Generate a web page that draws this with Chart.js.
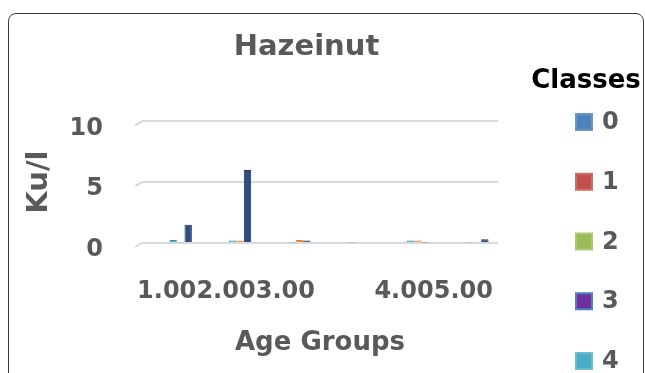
<!DOCTYPE html>
<html>
<head>
<meta charset="utf-8">
<title>Hazeinut</title>
<style>
  html, body { margin: 0; padding: 0; background: #ffffff; overflow: hidden; }
  #wrap { position: relative; width: 645px; height: 373px; }
  #frame {
    position: absolute; left: 8px; top: 13px; width: 636px; height: 420px;
    border: 1px solid #3c3c3c; border-radius: 8px; box-sizing: border-box;
    pointer-events: none;
  }
  canvas { position: absolute; left: 0; top: 0; }
</style>
<script src="https://cdn.jsdelivr.net/npm/chart.js@4/dist/chart.umd.min.js"></script>
</head>
<body>
<div id="wrap">
  <canvas id="chart" width="645" height="373"></canvas>
  <div id="frame"></div>
</div>
<script>
// Age-group categories along the x axis
const ageGroups = ['1.00', '2.00', '3.00', '', '4.00', '5.00'];

// Legend entries
const classes = ['0', '1', '2', '3', '4'];
const classFill = ['#4f81bd', '#c0504d', '#9bbb59', '#7030a0', '#4bacc6'];
const classEdge = ['#6b95c9', '#cc6c69', '#aec874', '#4f81bd', '#6cbcd2'];

// Column series (Ku/l) per age group
const seriesNames = ['4', '1', '3'];
const cyanValues   = [0.25, 0.20, 0.05, 0.05, 0.20, 0.05];
const orangeValues = [0.05, 0.20, 0.25, 0.00, 0.20, 0.10];
const navyValues   = [1.50, 6.00, 0.20, 0.00, 0.05, 0.30];

// Value-axis ticks
const yTicks = [0, 5, 10];

const FONT = 'DejaVu Sans';
const TEXT = '#595959';
const GRID = '#d9d9d9';

Chart.defaults.font.family = FONT;

// Columns stand a little behind the category labels (3-D depth)
const depthShift = 9;
const depthPlugin = {
  id: 'depth',
  beforeDatasetsDraw(chart) {
    chart.ctx.save();
    chart.ctx.translate(depthShift, 0);
  },
  afterDatasetsDraw(chart) {
    chart.ctx.restore();
  }
};

// Slanted floor edge where each gridline meets the side wall,
// and the "Classes" legend
const decorPlugin = {
  id: 'decor',
  afterDraw(chart) {
    const { ctx, chartArea, scales } = chart;
    const y = scales.y;
    ctx.save();

    ctx.strokeStyle = GRID;
    ctx.lineWidth = 2;
    yTicks.forEach(v => {
      const py = y.getPixelForValue(v);
      ctx.beginPath();
      ctx.moveTo(chartArea.left - 7, py + 4);
      ctx.lineTo(chartArea.left, py);
      ctx.stroke();
    });

    // legend
    const lx = chartArea.right + 77;
    ctx.fillStyle = '#000000';
    ctx.font = `bold 26px "${FONT}"`;
    ctx.textAlign = 'center';
    ctx.textBaseline = 'middle';
    ctx.fillText('Classes', chartArea.right + 88, 81);

    ctx.font = `bold 24px "${FONT}"`;
    ctx.textAlign = 'left';
    classes.forEach((c, i) => {
      const cy = 122 + i * 59.75;
      ctx.fillStyle = classEdge[i];
      ctx.fillRect(lx, cy - 9, 18, 18);
      ctx.fillStyle = classFill[i];
      ctx.fillRect(lx + 2, cy - 7, 14, 14);
      ctx.fillStyle = TEXT;
      ctx.fillText(c, lx + 27, cy + 1);
    });

    ctx.restore();
  }
};

const tickFont = { family: FONT, size: 24, weight: 'bold' };

new Chart(document.getElementById('chart'), {
  type: 'bar',
  data: {
    labels: ageGroups,
    datasets: [
      { label: seriesNames[0], data: cyanValues,   backgroundColor: '#4bacc6', borderColor: '#3a93ab', borderWidth: 1 },
      { label: seriesNames[1], data: orangeValues, backgroundColor: '#f79646', borderColor: '#e07f30', borderWidth: 1 },
      { label: seriesNames[2], data: navyValues,   backgroundColor: '#2c4d7f', borderColor: '#1d3460', borderWidth: 1 }
    ]
  },
  options: {
    responsive: false,
    animation: false,
    devicePixelRatio: 1,
    layout: { padding: { left: 0, right: 32, top: 0, bottom: 0 } },
    datasets: {
      bar: { categoryPercentage: 0.38, barPercentage: 0.98 }
    },
    plugins: {
      legend: { display: false },
      tooltip: { enabled: false },
      title: {
        display: true,
        text: 'Hazeinut',
        color: TEXT,
        font: { family: FONT, size: 29, weight: 'bold' },
        padding: { top: 30, bottom: 56.5 }
      }
    },
    scales: {
      x: {
        grid: { display: false, drawTicks: false },
        border: { display: false },
        ticks: {
          autoSkip: false, maxRotation: 0, minRotation: 0,
          padding: 34, labelOffset: -5,
          color: TEXT, font: tickFont
        },
        title: {
          display: true, text: 'Age Groups', color: TEXT,
          font: { family: FONT, size: 26, weight: 'bold' },
          padding: { top: 0, bottom: 14 }
        },
        afterFit(s) { s.height = 130; }
      },
      y: {
        min: 0,
        max: 10,
        afterBuildTicks(s) { s.ticks = yTicks.map(v => ({ value: v })); },
        grid: { color: GRID, lineWidth: 2, drawTicks: false },
        border: { display: false },
        ticks: { padding: 39, labelOffset: 7, color: TEXT, font: tickFont },
        title: {
          display: true, text: 'Ku/l', color: TEXT,
          font: { family: FONT, size: 29, weight: 'bold' },
          padding: { top: 22, bottom: 0 }
        },
        afterFit(s) { s.width = 142; }
      },
      legendSpace: {
        type: 'linear',
        position: 'right',
        display: true,
        grid: { display: false, drawTicks: false },
        border: { display: false },
        ticks: { display: false },
        afterFit(s) { s.width = 115; }
      }
    }
  },
  plugins: [depthPlugin, decorPlugin]
});
</script>
</body>
</html>
